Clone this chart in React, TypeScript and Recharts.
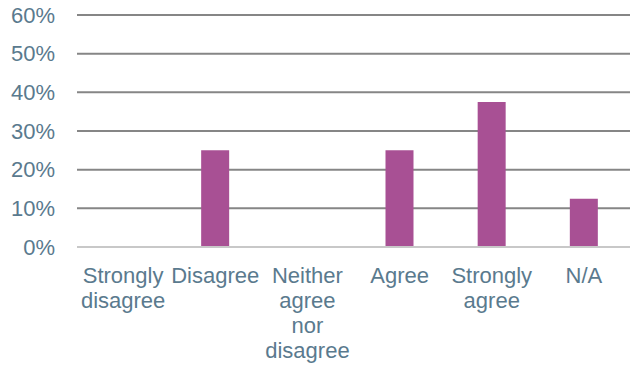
import { BarChart, Bar, XAxis, YAxis, CartesianGrid } from 'recharts';

const categories = ['Strongly disagree', 'Disagree', 'Neither agree nor disagree', 'Agree', 'Strongly agree', 'N/A'];
const shares = [0, 0.25, 0, 0.25, 0.375, 0.125];
const yTicks = [0, 0.1, 0.2, 0.3, 0.4, 0.5, 0.6];

const data = categories.map((name, i) => ({ name, value: shares[i] }));

const FONT = '"Liberation Sans", Arial, sans-serif';
const LABEL_COLOR = '#5a7a8e';

const WrappedTick = (props: any) => {
  const { x, y, payload } = props;
  const words: string[] = String(payload.value).split(' ');
  return (
    <g transform={`translate(${x},${y})`}>
      <text textAnchor="middle" fill={LABEL_COLOR} fontSize={22} fontFamily={FONT}>
        {words.map((w, i) => (
          <tspan key={i} x={0} y={34 + i * 25}>
            {w}
          </tspan>
        ))}
      </text>
    </g>
  );
};

const App = () => {
  return (
    <div>
      <style>{`body{margin:0}`}</style>
      <BarChart
        width={631}
        height={365}
        data={data}
        margin={{ top: 15, right: 1, left: 0, bottom: 0 }}
        barCategoryGap={32}
      >
        <CartesianGrid vertical={false} stroke="#868686" strokeWidth={2} />
        <XAxis
          dataKey="name"
          interval={0}
          height={118}
          tickLine={false}
          tickSize={0}
          axisLine={{ stroke: '#c8c8c8', strokeWidth: 2 }}
          tick={<WrappedTick />}
        />
        <YAxis
          domain={[0, 0.6]}
          ticks={yTicks}
          width={77}
          axisLine={false}
          tickLine={false}
          tickSize={0}
          tickMargin={22}
          tickFormatter={(v: number) => `${Math.round(v * 100)}%`}
          tick={{ fill: LABEL_COLOR, fontSize: 22, fontFamily: FONT }}
        />
        <Bar dataKey="value" fill="#a85094" isAnimationActive={false} />
      </BarChart>
    </div>
  );
};

export default App;
